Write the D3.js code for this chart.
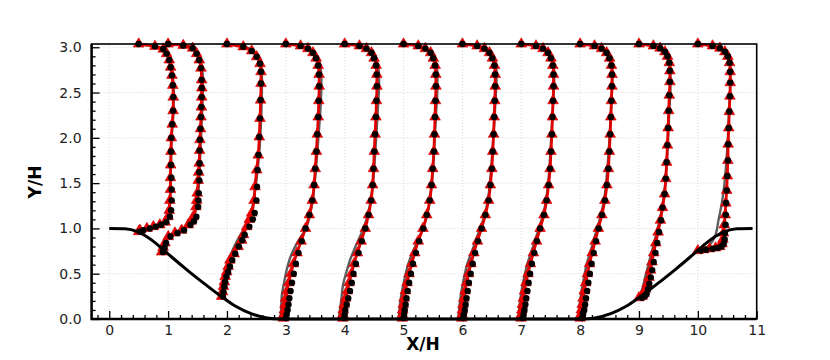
<!DOCTYPE html>
<html>
<head>
<meta charset="utf-8">
<script src="https://cdn.jsdelivr.net/npm/d3@7"></script>
<style>
  body { margin: 0; background: #fff; }
  text { font-family: "DejaVu Sans", sans-serif; }
</style>
</head>
<body>
<script>
// stations (X/H) where the profiles are taken
var stationX = [0.5, 1, 2, 3, 4, 5, 6, 7, 8, 9, 10];

// Y/H of the sample points, per station
var y05 = [0.965,0.98,1.00,1.02,1.04,1.07,1.13,1.20,1.31,1.43,1.56,1.70,1.85,2.00,2.15,2.30,2.45,2.58,2.69,2.78,2.86,2.93,2.98,3.01,3.036];
var y1 = [0.74,0.79,0.84,0.91,0.95,0.98,1.04,1.08,1.13,1.24,1.31,1.39,1.53,1.62,1.72,1.86,1.98,2.10,2.23,2.34,2.45,2.55,2.64,2.77,2.86,2.93,2.99,3.02,3.036];
var y2 = [0.25,0.30,0.36,0.41,0.47,0.52,0.58,0.65,0.72,0.80,0.87,0.93,1.02,1.10,1.17,1.31,1.46,1.645,1.81,2.01,2.215,2.417,2.60,2.73,2.82,2.895,2.96,3.005,3.036];
var flatY = [0.01,0.05,0.10,0.16,0.23,0.31,0.40,0.50,0.61,0.73,0.86,1.00,1.15,1.31,1.48,1.66,1.85,2.04,2.23,2.41,2.57,2.70,2.80,2.88,2.94,2.985,3.015,3.036];
var y9 = [0.235,0.25,0.28,0.33,0.39,0.46,0.54,0.63,0.73,0.84,0.96,1.09,1.23,1.38,1.55,1.73,1.92,2.11,2.30,2.47,2.62,2.74,2.83,2.90,2.95,2.99,3.015,3.036];
var y10 = [0.755,0.765,0.775,0.785,0.80,0.83,0.88,0.95,1.04,1.15,1.28,1.42,1.58,1.75,1.93,2.11,2.29,2.46,2.61,2.73,2.83,2.90,2.95,2.99,3.015,3.036];

// red model (line + triangles), offset from station
var red05 = [0,0.02,0.14,0.25,0.36,0.45,0.50,0.52,0.53,0.54,0.54,0.543,0.548,0.555,0.57,0.585,0.588,0.58,0.565,0.543,0.52,0.475,0.418,0.277,0];
var red1 = [-0.11,-0.085,-0.054,0.003,0.116,0.23,0.342,0.39,0.427,0.473,0.485,0.495,0.512,0.52,0.529,0.535,0.541,0.55,0.558,0.565,0.57,0.572,0.57,0.558,0.529,0.485,0.417,0.257,0];
var red2 = [-0.09,-0.075,-0.06,-0.045,-0.03,-0.005,0.02,0.05,0.12,0.19,0.25,0.28,0.335,0.38,0.42,0.46,0.476,0.505,0.532,0.549,0.561,0.572,0.578,0.578,0.561,0.505,0.42,0.277,0];
var red3 = [-0.04,-0.035,-0.025,-0.015,0.0,0.02,0.05,0.085,0.13,0.19,0.26,0.335,0.40,0.45,0.48,0.50,0.52,0.535,0.55,0.56,0.567,0.565,0.55,0.515,0.46,0.375,0.25,0];
var red4 = [-0.03,-0.03,-0.025,-0.01,0.015,0.045,0.075,0.115,0.16,0.215,0.28,0.35,0.405,0.45,0.475,0.49,0.503,0.516,0.53,0.54,0.548,0.545,0.535,0.5,0.455,0.37,0.25,0];
var red5 = [-0.02,-0.02,-0.015,-0.005,0.01,0.03,0.06,0.095,0.14,0.19,0.25,0.33,0.395,0.445,0.475,0.495,0.515,0.525,0.535,0.543,0.55,0.548,0.537,0.505,0.46,0.37,0.25,0];
var red6 = [-0.01,-0.005,0.0,0.01,0.025,0.045,0.07,0.105,0.145,0.195,0.255,0.325,0.39,0.445,0.475,0.5,0.515,0.53,0.54,0.55,0.557,0.557,0.545,0.51,0.46,0.375,0.25,0];
var red7 = [-0.005,0.0,0.01,0.02,0.035,0.055,0.08,0.115,0.155,0.205,0.26,0.32,0.385,0.43,0.465,0.49,0.505,0.52,0.53,0.54,0.548,0.548,0.537,0.505,0.455,0.37,0.25,0];
var red8 = [0.0,0.01,0.02,0.035,0.05,0.07,0.095,0.125,0.16,0.205,0.255,0.31,0.37,0.42,0.455,0.48,0.497,0.51,0.522,0.532,0.54,0.542,0.532,0.5,0.45,0.365,0.245,0];
var red9 = [0.0,0.05,0.085,0.11,0.14,0.17,0.195,0.22,0.25,0.285,0.325,0.365,0.4,0.435,0.455,0.47,0.483,0.495,0.505,0.515,0.525,0.525,0.515,0.485,0.44,0.36,0.245,0];
var red10 = [0.0,0.1,0.2,0.3,0.37,0.41,0.425,0.435,0.45,0.465,0.475,0.49,0.5,0.51,0.515,0.525,0.535,0.545,0.55,0.55,0.54,0.51,0.46,0.375,0.25,0];

// black circles (reference data)
var black05 = [0.02,0.08,0.19,0.29,0.38,0.47,0.53,0.55,0.56,0.56,0.555,0.55,0.55,0.555,0.57,0.585,0.588,0.58,0.565,0.543,0.52,0.475,0.418,0.277,0];
var black1 = [-0.09,-0.06,-0.035,0.04,0.16,0.27,0.38,0.44,0.48,0.51,0.515,0.52,0.53,0.53,0.535,0.535,0.541,0.55,0.558,0.565,0.57,0.572,0.57,0.558,0.529,0.485,0.417,0.257,0];
var black2 = [-0.07,-0.06,-0.045,-0.03,-0.01,0.02,0.05,0.09,0.14,0.20,0.26,0.30,0.38,0.44,0.47,0.50,0.51,0.52,0.535,0.549,0.561,0.572,0.578,0.578,0.561,0.505,0.42,0.277,0];
var black3 = [0.0,0.015,0.03,0.045,0.06,0.08,0.105,0.135,0.17,0.215,0.27,0.335,0.40,0.45,0.48,0.50,0.52,0.535,0.55,0.56,0.567,0.565,0.55,0.515,0.46,0.375,0.25,0];
var black4 = [-0.01,0.0,0.01,0.035,0.06,0.09,0.12,0.15,0.19,0.235,0.29,0.35,0.405,0.45,0.475,0.49,0.503,0.516,0.53,0.54,0.548,0.545,0.535,0.5,0.455,0.37,0.25,0];
var black5 = [0.0,0.01,0.02,0.035,0.05,0.07,0.095,0.125,0.16,0.21,0.265,0.335,0.395,0.445,0.475,0.495,0.515,0.525,0.535,0.543,0.55,0.548,0.537,0.505,0.46,0.37,0.25,0];
var black6 = [0.01,0.025,0.04,0.055,0.07,0.09,0.11,0.14,0.175,0.215,0.265,0.325,0.39,0.445,0.475,0.5,0.515,0.53,0.54,0.55,0.557,0.557,0.545,0.51,0.46,0.375,0.25,0];
var black7 = [0.02,0.04,0.055,0.07,0.085,0.105,0.125,0.15,0.18,0.22,0.265,0.32,0.385,0.43,0.465,0.49,0.505,0.52,0.53,0.54,0.548,0.548,0.537,0.505,0.455,0.37,0.25,0];
var black8 = [0.03,0.05,0.07,0.085,0.10,0.12,0.14,0.165,0.195,0.23,0.27,0.315,0.37,0.42,0.455,0.48,0.497,0.51,0.522,0.532,0.54,0.542,0.532,0.5,0.45,0.365,0.245,0];
var black9 = [0.05,0.1,0.13,0.155,0.175,0.2,0.225,0.25,0.28,0.31,0.34,0.375,0.4,0.435,0.455,0.47,0.483,0.495,0.505,0.515,0.525,0.525,0.515,0.485,0.44,0.36,0.245,0];
var black10 = [0.05,0.14,0.25,0.33,0.40,0.44,0.455,0.46,0.47,0.475,0.48,0.49,0.5,0.51,0.515,0.525,0.535,0.545,0.55,0.55,0.54,0.51,0.46,0.375,0.25,0];

// gray model line, [Y/H, offset]
var gray05 = [[0.965,0],[1.0,0.12],[1.04,0.34],[1.08,0.45],[1.15,0.5],[1.3,0.53],[1.6,0.545],[2.0,0.56],[2.3,0.59],[2.5,0.595],[2.7,0.575],[2.85,0.535],[2.93,0.485],[2.98,0.42],[3.01,0.28],[3.036,0]];
var gray1 = [[0.74,-0.11],[0.84,-0.06],[0.91,0.0],[0.95,0.11],[0.99,0.24],[1.04,0.33],[1.13,0.43],[1.25,0.49],[1.5,0.525],[1.8,0.545],[2.1,0.565],[2.4,0.585],[2.64,0.59],[2.78,0.575],[2.87,0.54],[2.94,0.485],[2.99,0.41],[3.02,0.26],[3.036,0]];
var gray2 = [[0.25,-0.1],[0.4,-0.07],[0.55,0.0],[0.65,0.03],[0.75,0.09],[0.85,0.16],[0.95,0.25],[1.05,0.34],[1.15,0.40],[1.3,0.45],[1.5,0.495],[2.0,0.565],[2.4,0.59],[2.65,0.595],[2.8,0.58],[2.9,0.525],[2.97,0.42],[3.01,0.28],[3.036,0]];
var gray3 = [[0.0,-0.09],[0.1,-0.08],[0.25,-0.07],[0.4,-0.03],[0.54,0.014],[0.65,0.06],[0.76,0.127],[0.86,0.21],[0.95,0.30],[1.05,0.37],[1.15,0.41],[1.3,0.455],[1.5,0.49],[1.8,0.53],[2.1,0.565],[2.4,0.595],[2.6,0.605],[2.72,0.6],[2.82,0.58],[2.9,0.53],[2.96,0.445],[3.0,0.33],[3.025,0.18],[3.036,0]];
var gray4 = [[0.0,-0.1],[0.1,-0.08],[0.2,-0.06],[0.39,-0.024],[0.52,0.03],[0.65,0.09],[0.78,0.17],[0.91,0.26],[1.02,0.33],[1.13,0.384],[1.3,0.44],[1.5,0.48],[1.8,0.515],[2.1,0.545],[2.4,0.57],[2.6,0.585],[2.72,0.58],[2.82,0.56],[2.9,0.51],[2.96,0.435],[3.0,0.33],[3.025,0.18],[3.036,0]];
var gray5 = [[0.0,-0.08],[0.17,-0.06],[0.39,0.0],[0.61,0.08],[0.84,0.223],[1.06,0.364],[1.2,0.42],[1.4,0.465],[1.7,0.505],[2.0,0.53],[2.3,0.555],[2.55,0.575],[2.7,0.575],[2.8,0.56],[2.88,0.52],[2.95,0.445],[3.0,0.33],[3.025,0.18],[3.036,0]];
var gray6 = [[0,-0.07],[0.2,-0.04],[0.4,0.01],[0.6,0.08],[0.8,0.19],[1.0,0.3],[1.15,0.38],[1.35,0.44],[1.6,0.48],[1.9,0.515],[2.2,0.545],[2.45,0.565],[2.65,0.58],[2.77,0.575],[2.86,0.545],[2.93,0.49],[2.98,0.4],[3.015,0.26],[3.036,0]];
var gray7 = [[0,-0.05],[0.2,-0.02],[0.4,0.03],[0.6,0.1],[0.8,0.2],[1.0,0.3],[1.15,0.37],[1.35,0.43],[1.6,0.47],[1.9,0.5],[2.2,0.525],[2.45,0.545],[2.65,0.56],[2.77,0.555],[2.86,0.53],[2.93,0.48],[2.98,0.395],[3.015,0.26],[3.036,0]];
var gray8 = [[0,-0.03],[0.2,0.0],[0.4,0.05],[0.6,0.11],[0.8,0.2],[1.0,0.29],[1.15,0.355],[1.35,0.415],[1.6,0.455],[1.9,0.49],[2.2,0.515],[2.45,0.535],[2.65,0.55],[2.77,0.545],[2.86,0.52],[2.93,0.475],[2.98,0.39],[3.015,0.26],[3.036,0]];
var gray9 = [[0.235,-0.01],[0.3,0.04],[0.45,0.1],[0.6,0.16],[0.75,0.22],[0.9,0.28],[1.05,0.335],[1.2,0.385],[1.4,0.43],[1.7,0.47],[2.0,0.495],[2.3,0.515],[2.55,0.535],[2.72,0.535],[2.83,0.52],[2.91,0.485],[2.97,0.41],[3.01,0.3],[3.036,0]];
var gray10 = [[0.76,0.0],[0.78,0.12],[0.82,0.2],[0.87,0.26],[0.95,0.31],[1.09,0.35],[1.25,0.4],[1.45,0.445],[1.7,0.48],[2.0,0.51],[2.3,0.53],[2.55,0.55],[2.72,0.555],[2.83,0.54],[2.91,0.505],[2.97,0.43],[3.01,0.3],[3.036,0]];

var profileY = [y05, y1, y2, flatY, flatY, flatY, flatY, flatY, flatY, y9, y10];
var redU = [red05, red1, red2, red3, red4, red5, red6, red7, red8, red9, red10];
var blackU = [black05, black1, black2, black3, black4, black5, black6, black7, black8, black9, black10];
var grayU = [gray05, gray1, gray2, gray3, gray4, gray5, gray6, gray7, gray8, gray9, gray10];

// lower wall (hills)
var hillX = [0,0.27,0.48,0.64,0.75,0.91,1.07,1.34,1.61,1.88,2.14,2.41,2.68,2.89,8.04,8.25,8.52,8.79,9.05,9.32,9.59,9.86,10.02,10.18,10.29,10.45,10.66,10.93];
var hillY = [1,0.997,0.964,0.908,0.857,0.770,0.679,0.532,0.393,0.259,0.143,0.059,0.012,0,0,0.012,0.059,0.143,0.259,0.393,0.532,0.679,0.770,0.857,0.908,0.964,0.997,1];

var xMajor = d3.range(0, 12, 1);
var xMinor = d3.range(-0.2, 11, 0.2).filter(function(v){ return Math.abs(v - Math.round(v)) > 0.01; });
var yMajor = [0, 0.5, 1.0, 1.5, 2.0, 2.5, 3.0];
var yMinor = d3.range(0.1, 3.0, 0.1).filter(function(v){ return Math.abs(v*2 - Math.round(v*2)) > 0.01; });

var W = 830, H = 360;
var svg = d3.select("body").append("svg")
    .attr("width", W)
    .attr("height", H)
    .attr("viewBox", "0 0 " + W + " " + H);

var x = d3.scaleLinear().domain([-0.3, 11]).range([91.6, 756.7]);
var y = d3.scaleLinear().domain([0, 3.036]).range([319, 44]);

// dotted grid
svg.append("g").selectAll("line").data(xMajor).enter().append("line")
    .attr("x1", function(d){ return x(d); }).attr("x2", function(d){ return x(d); })
    .attr("y1", y(0)).attr("y2", y(3.036))
    .attr("stroke", "#d8d8d8").attr("stroke-width", 1).attr("stroke-dasharray", "1,2");
svg.append("g").selectAll("line").data(yMajor.slice(1)).enter().append("line")
    .attr("x1", x(-0.3)).attr("x2", x(11))
    .attr("y1", function(d){ return y(d); }).attr("y2", function(d){ return y(d); })
    .attr("stroke", "#d8d8d8").attr("stroke-width", 1).attr("stroke-dasharray", "1,2");

// profiles
var gLines = svg.append("g");
var gRed = svg.append("g");
var gTri = svg.append("g");
var gDot = svg.append("g");

stationX.forEach(function(s, i){
    var grayLine = d3.line()
        .x(function(d){ return x(s + d[1]); })
        .y(function(d){ return y(d[0]); })
        .curve(d3.curveMonotoneY);
    gLines.append("path")
        .attr("d", grayLine(grayU[i]))
        .attr("fill", "none")
        .attr("stroke", "#5e5e5e")
        .attr("stroke-width", 2.4);

    var pts = profileY[i].map(function(yy, j){
        return {y: yy, r: redU[i][j], b: blackU[i][j]};
    });
    var redLine = d3.line()
        .x(function(d){ return x(s + d.r); })
        .y(function(d){ return y(d.y); })
        .curve(d3.curveMonotoneY);
    gRed.append("path")
        .attr("d", redLine(pts))
        .attr("fill", "none")
        .attr("stroke", "#e00000")
        .attr("stroke-width", 2.8);

    gTri.selectAll(null).data(pts).enter().append("path")
        .attr("d", d3.symbol().type(d3.symbolTriangle).size(50))
        .attr("transform", function(d){ return "translate(" + x(s + d.r) + "," + y(d.y) + ")"; })
        .attr("fill", "#ee0000")
        .attr("stroke", "#cc0000")
        .attr("stroke-width", 0.6);

    gDot.selectAll(null).data(pts).enter().append("circle")
        .attr("cx", function(d){ return x(s + d.b); })
        .attr("cy", function(d){ return y(d.y); })
        .attr("r", 3.2)
        .attr("fill", "#000");
});

// hill wall
var hillLine = d3.line()
    .x(function(d){ return x(d[0]); })
    .y(function(d){ return y(d[1]); })
    .curve(d3.curveMonotoneX);
svg.append("path")
    .attr("d", hillLine(hillX.map(function(v, k){ return [v, hillY[k]]; })))
    .attr("fill", "none")
    .attr("stroke", "#000")
    .attr("stroke-width", 3);

// axes
var axisFont = function(g){
    g.select(".domain").remove();
    g.selectAll("text").attr("font-family", "DejaVu Sans").attr("font-size", 14).attr("fill", "#222");
    g.selectAll("line").attr("stroke", "#000").attr("stroke-width", 1.3);
};
svg.append("g").attr("transform", "translate(0," + y(0) + ")")
    .call(d3.axisBottom(x).tickValues(xMajor).tickSize(-8).tickPadding(6).tickFormat(d3.format("d")))
    .call(axisFont);
svg.append("g").attr("transform", "translate(0," + y(0) + ")")
    .call(d3.axisBottom(x).tickValues(xMinor).tickSize(-4).tickFormat(""))
    .call(axisFont);
svg.append("g").attr("transform", "translate(" + x(-0.3) + ",0)")
    .call(d3.axisLeft(y).tickValues(yMajor).tickSize(-8).tickPadding(10).tickFormat(d3.format(".1f")))
    .call(axisFont);
svg.append("g").attr("transform", "translate(" + x(-0.3) + ",0)")
    .call(d3.axisLeft(y).tickValues(yMinor).tickSize(-4).tickFormat(""))
    .call(axisFont);

// frame
svg.append("rect")
    .attr("x", x(-0.3)).attr("y", y(3.036))
    .attr("width", x(11) - x(-0.3)).attr("height", y(0) - y(3.036))
    .attr("fill", "none").attr("stroke", "#000").attr("stroke-width", 1.6);
svg.append("path")
    .attr("d", "M" + x(-0.3) + "," + y(3.036) + "V" + y(0) + "H" + x(11))
    .attr("fill", "none").attr("stroke", "#000").attr("stroke-width", 2.4);

// titles
svg.append("text")
    .attr("x", 423).attr("y", 350)
    .attr("text-anchor", "middle")
    .attr("font-family", "Liberation Sans").attr("font-weight", "bold").attr("font-size", 17)
    .text("X/H");
svg.append("text")
    .attr("transform", "translate(41,182) rotate(-90)")
    .attr("text-anchor", "middle")
    .attr("font-family", "Liberation Sans").attr("font-weight", "bold").attr("font-size", 17)
    .text("Y/H");
</script>
</body>
</html>
